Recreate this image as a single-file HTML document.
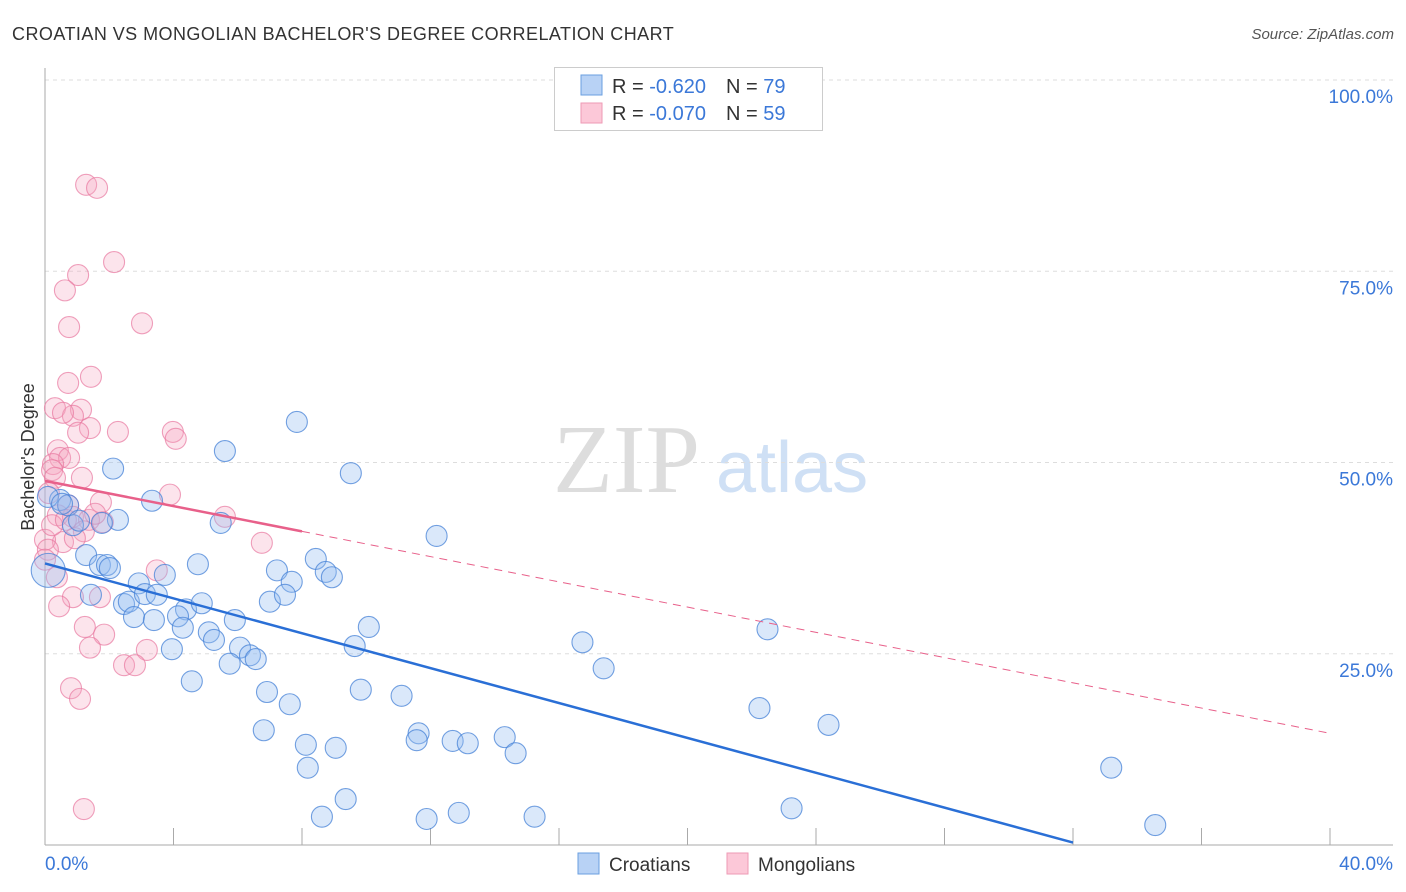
<!DOCTYPE html>
<html><head><meta charset="utf-8"><style>
body{margin:0;background:#fff;font-family:"Liberation Sans",sans-serif}
svg{display:block}
</style></head><body>
<svg id="c" width="1406" height="892">
<text x="12" y="40" font-size="18" fill="#333" letter-spacing="0.45">CROATIAN VS MONGOLIAN BACHELOR'S DEGREE CORRELATION CHART</text>
<text x="1394" y="39" font-size="15" fill="#555" font-style="italic" text-anchor="end">Source: ZipAtlas.com</text>
<g>
<text x="553" y="492" font-size="98" font-family="Liberation Serif" fill="#ddd">ZIP</text>
<text x="716" y="492" font-size="72" fill="#cfe0f5">atlas</text>
</g>
<g id="grid"></g>
<g id="pts"></g>
<g id="trend"></g>
<text transform="translate(34,457) rotate(-90)" font-size="18" fill="#333" text-anchor="middle">Bachelor's Degree</text>
<text x="45" y="870" font-size="19" fill="#3b78d8">0.0%</text>
<text x="1393" y="870" font-size="19" fill="#3b78d8" text-anchor="end">40.0%</text>
<g>
<rect x="554.5" y="67.5" width="268" height="63" fill="#fff" stroke="#ccc"/>
<rect x="581" y="75" width="21" height="20" fill="#b8d2f5" stroke="#6a9fe0"/>
<rect x="581" y="103" width="21" height="20" fill="#fcc8d8" stroke="#ee9ab5"/>
<text x="612" y="93" font-size="20" fill="#333">R = <tspan fill="#3b78d8">-0.620</tspan><tspan dx="20">N = </tspan><tspan fill="#3b78d8">79</tspan></text>
<text x="612" y="120" font-size="20" fill="#333">R = <tspan fill="#3b78d8">-0.070</tspan><tspan dx="20">N = </tspan><tspan fill="#3b78d8">59</tspan></text>
</g>
<g>
<rect x="578" y="853" width="21" height="21" fill="#b8d2f5" stroke="#6a9fe0"/>
<text x="609" y="871" font-size="19" fill="#333">Croatians</text>
<rect x="727" y="853" width="21" height="21" fill="#fcc8d8" stroke="#ee9ab5"/>
<text x="758" y="871" font-size="19" fill="#333">Mongolians</text>
</g>
</svg>
<script>
const yTicks=[25,50,75,100];
const yTickLabels=["25.0%","50.0%","75.0%","100.0%"];
const xTicks=[0,4,8,12,16,20,24,28,32,36,40];
const croX=[7.84,5.6,2.12,9.52,3.33,2.27,1.77,0.87,5.47,12.19,1.28,1.71,1.93,4.76,8.43,3.73,2.92,7.22,7.68,8.74,8.93,1.43,2.46,2.61,3.11,3.48,4.39,4.88,7.0,7.47,2.77,3.39,4.14,4.29,5.91,10.08,5.1,5.26,16.73,9.64,6.07,6.38,6.56,3.95,5.75,17.39,22.49,4.57,6.91,9.83,11.1,7.62,22.24,24.39,6.81,11.63,11.57,8.12,9.05,12.69,13.16,14.31,14.65,8.18,33.19,9.36,8.62,11.88,12.88,15.24,23.24,34.56,0.1,0.47,0.09,0.72,1.06,0.53,2.02];
const croY=[55.3,51.5,49.2,48.6,45.0,42.5,42.1,41.8,42.1,40.4,37.9,36.6,36.6,36.7,37.4,35.3,34.2,35.9,34.4,35.7,35.0,32.7,31.5,31.8,32.8,32.7,30.8,31.6,31.8,32.7,29.8,29.4,29.9,28.4,29.4,28.5,27.8,26.8,26.5,26.0,25.8,24.8,24.3,25.6,23.7,23.1,28.2,21.4,20.0,20.3,19.5,18.4,17.9,15.7,15.0,14.6,13.7,13.1,12.7,13.6,13.3,14.1,12.0,10.1,10.1,6.0,3.7,3.4,4.2,3.7,4.8,2.6,35.9,45.1,45.5,44.4,42.4,44.6,36.2];
const monX=[1.28,1.62,2.15,1.03,0.62,3.02,0.75,1.43,0.72,0.31,1.12,0.87,0.56,1.4,1.03,2.27,3.98,4.07,0.4,0.47,0.75,0.25,0.22,1.15,0.31,0.12,3.89,1.74,0.72,0.4,0.87,1.37,1.8,5.6,1.21,0.56,0.93,6.75,0,0.37,3.48,0.87,0.44,1.24,1.84,1.4,3.17,2.46,2.8,0.81,1.09,1.21,1.56,0.22,0.65,0.09,1.71,0];
const monY=[86.3,85.9,76.2,74.5,72.5,68.2,67.7,61.2,60.4,57.1,56.9,56.1,56.5,54.5,53.9,54.0,54.0,53.1,51.6,50.6,50.6,49.8,49.0,48.0,48.0,46.0,45.8,44.8,44.4,43.1,42.9,42.5,42.2,42.9,41.0,39.6,40.1,39.5,39.9,35.0,35.9,32.4,31.2,28.5,27.5,25.8,25.5,23.5,23.5,20.5,19.1,4.7,43.3,41.8,42.5,38.6,32.4,37.3];
const croTrend=[36.8,-1.14];
const monTrend=[47.6,-0.825];
const croTrendEnd=[0,32.0];
const monSolidEnd=[0,8.0];
const monDashEnd=[8.0,40];

const X=v=>45+v*(1285/40);
const Y=v=>845-v*7.65;
const NS="http://www.w3.org/2000/svg";
function mk(t,a,p){const e=document.createElementNS(NS,t);for(const k in a)e.setAttribute(k,a[k]);p.appendChild(e);return e;}
const g=document.getElementById('grid');
yTicks.forEach((t,i)=>{
 const l=mk('line',{x1:45,x2:1395,y1:Y(t),y2:Y(t),stroke:'#ddd','stroke-dasharray':'4,4'},g);
 
 
 const tx=mk('text',{x:1393,y:Y(t)+23,'font-size':19,fill:'#3b78d8','text-anchor':'end'},g);
 tx.textContent=yTickLabels[i];
 
 
});
const ax=mk('line',{x1:45,x2:45,y1:68,y2:845,stroke:'#aaa'},g);


const bx=mk('line',{x1:45,x2:1393,y1:845,y2:845,stroke:'#aaa'},g);


xTicks.forEach(t=>{
 const l=mk('line',{x1:X(t),x2:X(t),y1:828,y2:845,stroke:'#aaa'},g);
 
 
});
const p=document.getElementById('pts');
function dots(xs,ys,fill,stroke,name){
 xs.forEach((x,i)=>{
  const big=(name==='croatian-point'&&i===72);
  const c=mk('circle',{cx:X(x),cy:Y(ys[i]),r:big?17:10.5,fill:fill,stroke:stroke,'stroke-width':1.1},p);
  
  
 });
}
dots(monX,monY,'rgba(245,165,192,0.3)','rgba(232,120,160,0.7)','mongolian-point');
dots(croX,croY,'rgba(150,190,240,0.35)','rgba(70,130,215,0.75)','croatian-point');
const tr=document.getElementById('trend');
const f=(t,x)=>t[0]+t[1]*x;
let l=mk('line',{x1:X(croTrendEnd[0]),y1:Y(f(croTrend,croTrendEnd[0])),x2:X(croTrendEnd[1]),y2:Y(f(croTrend,croTrendEnd[1])),stroke:'#2a6fd6','stroke-width':2.5},tr);


l=mk('line',{x1:X(monSolidEnd[0]),y1:Y(f(monTrend,monSolidEnd[0])),x2:X(monSolidEnd[1]),y2:Y(f(monTrend,monSolidEnd[1])),stroke:'#e8608a','stroke-width':2.5},tr);


l=mk('line',{x1:X(monDashEnd[0]),y1:Y(f(monTrend,monDashEnd[0])),x2:X(monDashEnd[1]),y2:Y(f(monTrend,monDashEnd[1])),stroke:'#e8608a','stroke-width':1,'stroke-dasharray':'8,6'},tr);


</script>
</body></html>
